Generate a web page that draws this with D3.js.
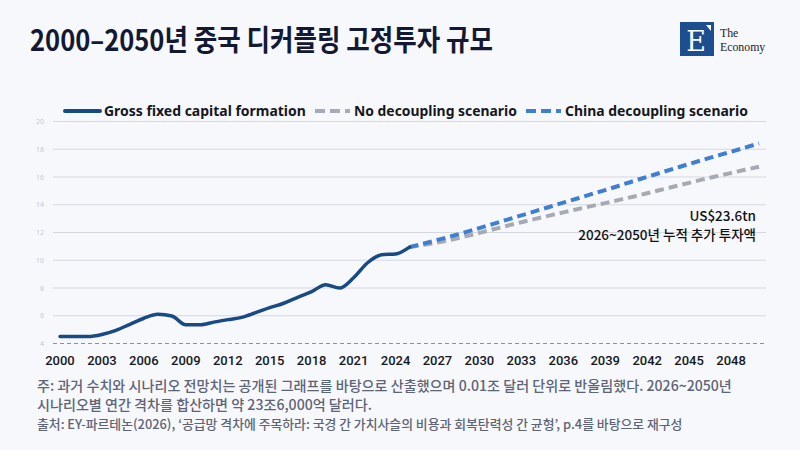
<!DOCTYPE html>
<html>
<head>
<meta charset="utf-8">
<script src="https://cdn.jsdelivr.net/npm/d3@7"></script>
<style>
  html, body { margin: 0; padding: 0; background: #f7f8fc; }
  svg { display: block; }
</style>
</head>
<body>
<div id="chart"></div>
<script>
// history (2000-2025), USD trillion
const histYears = [2000, 2001, 2002, 2003, 2004, 2005, 2006, 2007, 2008, 2009, 2010, 2011, 2012,
  2013, 2014, 2015, 2016, 2017, 2018, 2019, 2020, 2021, 2022, 2023, 2024, 2025];
const histValues = [4.5, 4.5, 4.5, 4.65, 4.95, 5.38, 5.82, 6.1, 5.98, 5.35, 5.35, 5.54, 5.72,
  5.88, 6.22, 6.58, 6.9, 7.33, 7.74, 8.24, 8.0, 8.74, 9.82, 10.4, 10.45, 10.95];

// scenarios (2025-2050)
const scenYears = [2025, 2026, 2027, 2028, 2029, 2030, 2031, 2032, 2033, 2034, 2035, 2036, 2037,
  2038, 2039, 2040, 2041, 2042, 2043, 2044, 2045, 2046, 2047, 2048, 2049, 2050];
const noDecoupling = [10.95, 11.1, 11.27, 11.48, 11.72, 11.97, 12.23, 12.49, 12.74, 12.98, 13.22, 13.45, 13.68,
  13.9, 14.12, 14.35, 14.58, 14.83, 15.08, 15.33, 15.58, 15.83, 16.06, 16.29, 16.52, 16.74];
const chinaDecoupling = [10.95, 11.2, 11.46, 11.74, 12.02, 12.32, 12.62, 12.93, 13.23, 13.54, 13.84, 14.15, 14.45,
  14.76, 15.06, 15.37, 15.7, 16.01, 16.32, 16.63, 16.94, 17.24, 17.53, 17.82, 18.12, 18.42];

const allYears = d3.range(2000, 2051);
const xTickYears = [2000, 2003, 2006, 2009, 2012, 2015, 2018, 2021, 2024, 2027, 2030, 2033, 2036, 2039, 2042, 2045, 2048];
const yTicks = [4, 6, 8, 10, 12, 14, 16, 18, 20];

const legendItems = [
  {label: "Gross fixed capital formation", color: "#1a4a84", dash: null, x: 65, w: 202},
  {label: "No decoupling scenario", color: "#a6abb3", dash: "10,5", x: 315, w: 163},
  {label: "China decoupling scenario", color: "#3f7fd1", dash: "10,5", x: 526, w: 183}
];

const W = 800, H = 450;
const kor = "'Noto Sans CJK KR', 'Noto Sans', sans-serif";

// shrink or grow a text's font so it spans the given width
function fitWidth(sel, size, target) {
  const len = sel.node().getComputedTextLength();
  sel.style("font-size", (size * target / len).toFixed(2) + "px");
}

const svg = d3.select("#chart").append("svg")
  .attr("width", W)
  .attr("height", H);

svg.append("rect").attr("width", W).attr("height", H).attr("fill", "#f7f8fc");

// title (squeezed a little, the original face is narrower)
svg.append("text")
  .attr("x", 30).attr("y", 51)
  .attr("textLength", 463)
  .attr("lengthAdjust", "spacingAndGlyphs")
  .style("font-family", kor)
  .style("font-weight", 700)
  .style("font-size", "29px")
  .style("fill", "#141933")
  .text("2000–2050년 중국 디커플링 고정투자 규모");

// logo
const logo = svg.append("g").attr("transform", "translate(680,22)");
logo.append("rect").attr("width", 34).attr("height", 34).attr("fill", "#1d4e8f");
logo.append("text")
  .attr("x", 16).attr("y", 29)
  .attr("text-anchor", "middle")
  .style("font-family", "'DejaVu Serif', 'Liberation Serif', serif")
  .style("font-size", "27px")
  .style("fill", "#fff")
  .text("E");
logo.append("path").attr("d", "M26,3 L31,3 L31,9 Z").attr("fill", "#fff");
const serif = "'Liberation Serif', 'DejaVu Serif', serif";
logo.append("text")
  .attr("x", 40).attr("y", 15)
  .style("font-family", serif)
  .style("font-size", "11.8px")
  .style("fill", "#222")
  .text("The");
logo.append("text")
  .attr("x", 40).attr("y", 28.5)
  .style("font-family", serif)
  .style("font-size", "11.8px")
  .style("fill", "#222")
  .text("Economy");

// scales
const x = d3.scaleBand().domain(allYears).range([53, 766]);
const xc = d => x(d) + x.bandwidth() / 2;
const y = d3.scaleLinear().domain([4, 20]).range([343.5, 121.5]);

// gridlines
svg.append("g")
  .selectAll("line")
  .data(yTicks)
  .join("line")
  .attr("x1", 53).attr("x2", 766)
  .attr("y1", d => y(d)).attr("y2", d => y(d))
  .attr("stroke", d => d === 4 ? "#8a8f99" : "#d5d8e0")
  .attr("stroke-width", 1)
  .attr("stroke-dasharray", d => d === 4 ? "4,3" : null);

// y tick labels
svg.append("g")
  .selectAll("text")
  .data(yTicks)
  .join("text")
  .attr("x", 44).attr("y", d => y(d) + 2.5)
  .attr("text-anchor", "end")
  .style("font-family", "'Noto Sans', sans-serif")
  .style("font-size", "7px")
  .style("fill", "#c5c9d3")
  .text(d => d);

// x axis labels
const xAxis = d3.axisBottom(x).tickValues(xTickYears).tickSize(0).tickPadding(0);
const xg = svg.append("g").attr("transform", "translate(0,365)").call(xAxis);
xg.select(".domain").remove();
xg.selectAll("text")
  .attr("dy", 0)
  .style("font-family", "Roboto, 'Noto Sans', sans-serif")
  .style("font-weight", 500)
  .style("font-size", "13px")
  .style("fill", "#15171c");

// lines
const line = d3.line()
  .x(d => xc(d[0]))
  .y(d => y(d[1]))
  .curve(d3.curveMonotoneX);

svg.append("path")
  .datum(scenYears.map((yr, i) => [yr, noDecoupling[i]]))
  .attr("d", line)
  .attr("fill", "none")
  .attr("stroke", legendItems[1].color)
  .attr("stroke-width", 4)
  .attr("stroke-dasharray", "9,5");

svg.append("path")
  .datum(scenYears.map((yr, i) => [yr, chinaDecoupling[i]]))
  .attr("d", line)
  .attr("fill", "none")
  .attr("stroke", legendItems[2].color)
  .attr("stroke-width", 4)
  .attr("stroke-dasharray", "9,5");

svg.append("path")
  .datum(histYears.map((yr, i) => [yr, histValues[i]]))
  .attr("d", line)
  .attr("fill", "none")
  .attr("stroke", legendItems[0].color)
  .attr("stroke-width", 3.5)
  .attr("stroke-linecap", "round")
  .attr("stroke-linejoin", "round");

// legend
const legend = svg.append("g").attr("transform", "translate(0,111)");
legendItems.forEach(item => {
  legend.append("line")
    .attr("x1", item.x).attr("x2", item.x + 35)
    .attr("y1", 0).attr("y2", 0)
    .attr("stroke", item.color)
    .attr("stroke-width", 4)
    .attr("stroke-linecap", item.dash ? "butt" : "round")
    .attr("stroke-dasharray", item.dash);
  const t = legend.append("text")
    .attr("x", item.x + 39).attr("y", 5)
    .style("font-family", "'Noto Sans', sans-serif")
    .style("font-weight", 700)
    .style("font-size", "13.5px")
    .style("fill", "#15171c")
    .text(item.label);
  fitWidth(t, 13.5, item.w);
});

// annotation
const ann = svg.append("g")
  .style("font-family", kor)
  .style("font-weight", 500)
  .style("font-size", "13.5px")
  .style("fill", "#111")
  .attr("text-anchor", "end");
ann.append("text").attr("x", 756).attr("y", 221).text("US$23.6tn");
ann.append("text").attr("x", 756).attr("y", 240).text("2026~2050년 누적 추가 투자액");

// notes
const notes = svg.append("g")
  .style("font-family", kor)
  .style("font-weight", 500)
  .style("fill", "#5d6476");
const n1 = notes.append("text").attr("x", 37).attr("y", 391).style("font-size", "13.5px")
  .text("주: 과거 수치와 시나리오 전망치는 공개된 그래프를 바탕으로 산출했으며 0.01조 달러 단위로 반올림했다. 2026~2050년");
fitWidth(n1, 13.5, 695);
notes.append("text").attr("x", 37).attr("y", 409.5).style("font-size", n1.style("font-size"))
  .text("시나리오별 연간 격차를 합산하면 약 23조6,000억 달러다.");
const n3 = notes.append("text").attr("x", 37).attr("y", 428.5).style("font-size", "12px")
  .text("출처: EY-파르테논(2026), ‘공급망 격차에 주목하라: 국경 간 가치사슬의 비용과 회복탄력성 간 균형’, p.4를 바탕으로 재구성");
fitWidth(n3, 12, 646);
</script>
</body>
</html>
